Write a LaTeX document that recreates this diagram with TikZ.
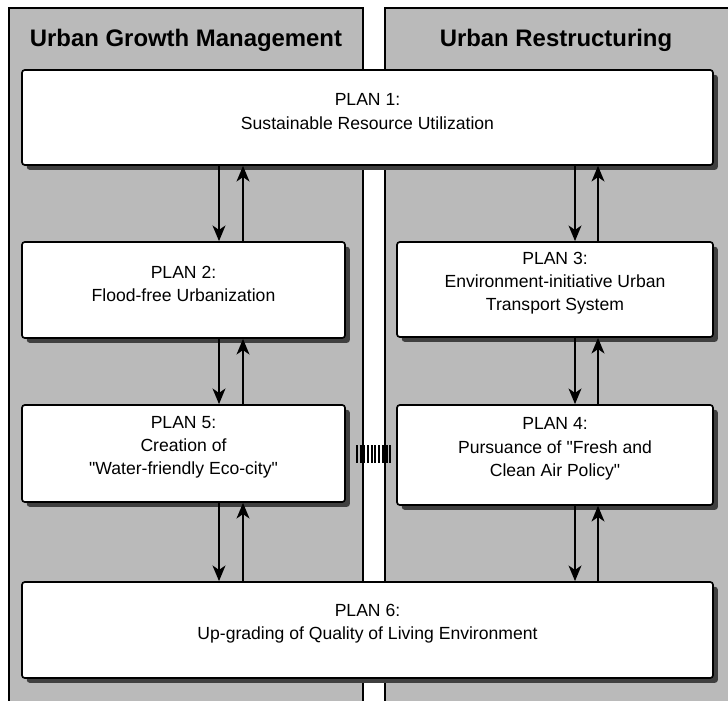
\documentclass[tikz,border=0pt]{standalone}
\usepackage{fontspec}
\setmainfont{Liberation Sans}
\usetikzlibrary{arrows.meta,fit,shadows}

\tikzset{
  column/.style={draw,line width=1.3pt,fill=black!27},
  heading/.style={font=\bfseries\fontsize{17}{20}\selectfont},
  plan/.style={draw,line width=1.2pt,fill=white,rounded corners=2pt,inner sep=0pt,
    align=center,font=\fontsize{12.5}{16.5}\selectfont,
    drop shadow={shadow xshift=0.12cm,shadow yshift=-0.12cm,fill=black!75,opacity=1}},
  flow/.style={line width=2pt,-{Stealth[length=11pt,width=9pt,inset=3pt]}},
  linkbar/.style={line width=0.45cm,dash pattern=on 0.05cm off 0.043cm}
}

\begin{document}
\begin{tikzpicture}[x=0.025cm,y=-0.025cm]
  \useasboundingbox (0,0) rectangle (728,701);
  \clip (0,0) rectangle (728,701);

  % the two policy columns
  \draw[column] (9,8) rectangle (363,720);
  \draw[column] (385,8) rectangle (745,720);
  \node[heading] (gm) at (186,40) {Urban Growth Management};
  \node[heading] (rs) at (556,40) {Urban Restructuring};

  % plans
  \node[plan,fit={(22,70) (713,165)}] (p1) {PLAN 1:\\Sustainable Resource Utilization};
  \node[plan,fit={(22,242) (345,338)}] (p2) {PLAN 2:\\Flood-free Urbanization};
  \node[plan,fit={(397,242) (713,337)}] (p3) {PLAN 3:\\Environment-initiative Urban\\Transport System};
  \node[plan,fit={(22,405) (345,502)}] (p5) {PLAN 5:\\Creation of\\\textquotedbl Water-friendly Eco-city\textquotedbl};
  \node[plan,fit={(397,405) (713,505)}] (p4) {PLAN 4:\\Pursuance of \textquotedbl Fresh and\\Clean Air Policy\textquotedbl};
  \node[plan,fit={(22,582) (713,678)}] (p6) {PLAN 6:\\Up-grading of Quality of Living Environment};

  \coordinate (ld) at (219,0);
  \coordinate (lu) at (243,0);
  \coordinate (rd) at (575,0);
  \coordinate (ru) at (598,0);

  \begin{scope}[flow]
    \draw (p1.south -| ld) -- (p2.north -| ld);
    \draw (p2.north -| lu) -- (p1.south -| lu);
    \draw (p2.south -| ld) -- (p5.north -| ld);
    \draw (p5.north -| lu) -- (p2.south -| lu);
    \draw (p5.south -| ld) -- (p6.north -| ld);
    \draw (p6.north -| lu) -- (p5.south -| lu);
    \draw (p1.south -| rd) -- (p3.north -| rd);
    \draw (p3.north -| ru) -- (p1.south -| ru);
    \draw (p3.south -| rd) -- (p4.north -| rd);
    \draw (p4.north -| ru) -- (p3.south -| ru);
    \draw (p4.south -| rd) -- (p6.north -| rd);
    \draw (p6.north -| ru) -- (p4.south -| ru);
  \end{scope}

  \draw[linkbar,shorten <=0.25cm,shorten >=0.12cm] (p5.east) -- (p5.east -| p4.west);
\end{tikzpicture}
\end{document}
